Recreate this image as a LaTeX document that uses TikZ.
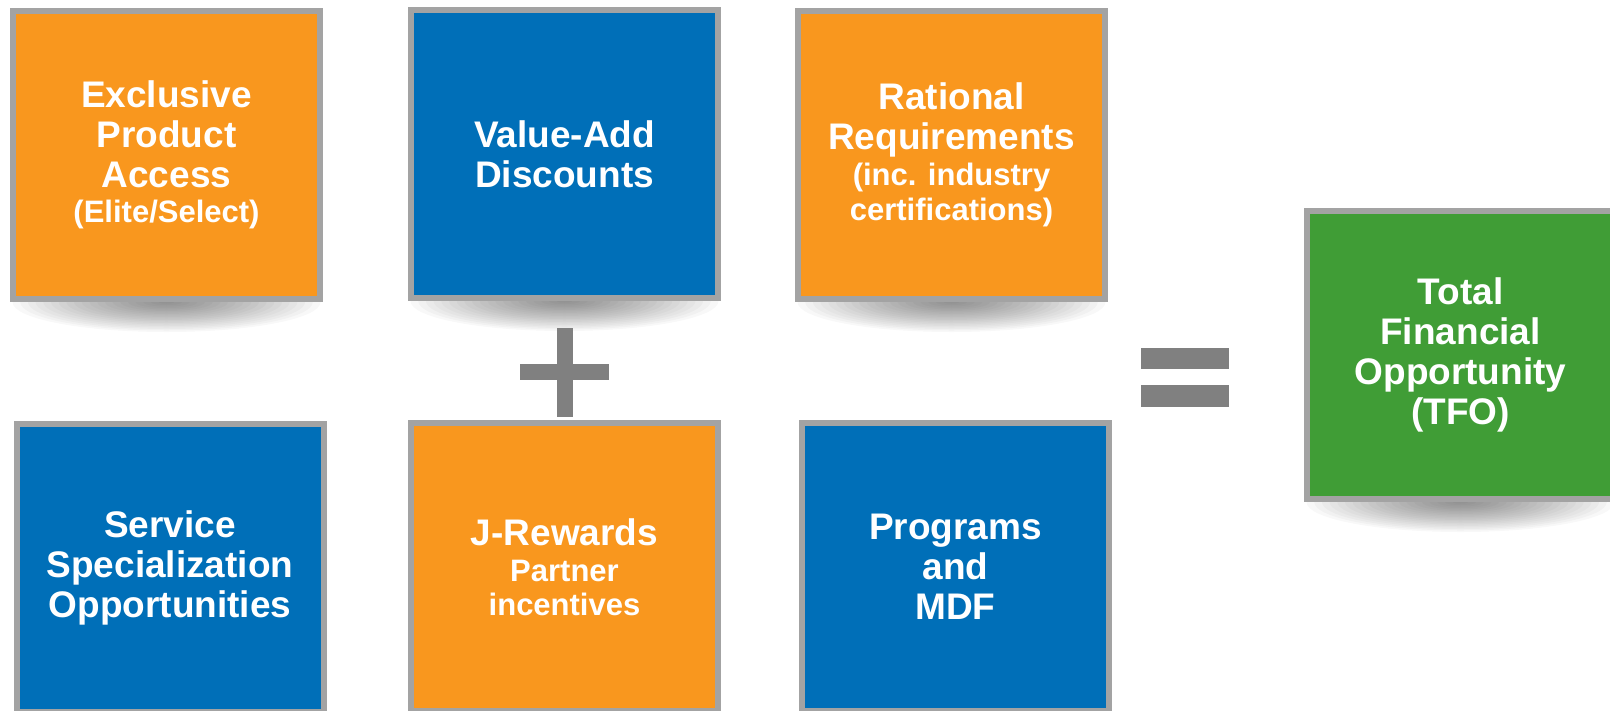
\documentclass[tikz,border=0pt]{standalone}
\usepackage{fontspec}
\setmainfont{Liberation Sans}
\usetikzlibrary{backgrounds}
\definecolor{borange}{RGB}{249,151,30}
\definecolor{bblue}{RGB}{0,111,184}
\definecolor{bgreen}{RGB}{64,157,54}
\definecolor{bgrayb}{RGB}{163,163,163}
\definecolor{opgray}{RGB}{128,128,128}
\newcommand\smallline[1]{{\fontsize{31}{33.5}\selectfont #1}}
\newcommand\softshadow[1]{%
  \foreach \k in {1,...,20}{%
    \fill[shadowlayer] ([yshift=-3pt]#1.south) ellipse [x radius=7.7pt*\k, y radius=1.5pt*\k];}}
\begin{document}
\begin{tikzpicture}[x=1pt,y=-1pt,
  tile/.style={draw=bgrayb, line width=6pt, minimum width=307pt, minimum height=288pt,
    inner sep=0pt, outer sep=0pt, align=center, text=white,
    font=\fontsize{37}{40}\selectfont\bfseries},
  shadowlayer/.style={fill=black, opacity=0.027},
  opsign/.style={fill=opgray}]
\useasboundingbox (0,0) rectangle (1610,710);
\clip (0,0) rectangle (1610,710);
% top row
\node[tile, fill=borange] (epa) at (166.5,155) {Exclusive\\Product\\Access\\[-5pt]\smallline{(Elite/Select)}};
\node[tile, fill=bblue] (vad) at (564.5,154) {Value-Add\\Discounts};
\node[tile, fill=borange] (rr) at (951.5,155) {Rational\\[0.5pt]Requirements\\[-4pt]\smallline{(inc. industry}\\[-5pt]\smallline{certifications)}};
% bottom row
\node[tile, fill=bblue] (sso) at (170,568) {Service\\Specialization\\Opportunities};
\node[tile, fill=borange] (jr) at (564.5,567) {J-Rewards\\[-3.3pt]\smallline{Partner}\\[-6.7pt]\smallline{incentives}};
\node[tile, fill=bblue] (pm) at (955.5,567) {Programs\\and\\MDF};
% result
\node[tile, fill=bgreen] (tfo) at (1460.5,355) {Total\\Financial\\Opportunity\\(TFO)};
% shadows
\begin{scope}[on background layer]
  \softshadow{epa}
  \softshadow{vad}
  \softshadow{rr}
  \softshadow{tfo}
\end{scope}
% plus
\fill[opsign] (557,328) rectangle (573,417);
\fill[opsign] (520,364) rectangle (609,380);
% equals
\fill[opsign] (1141,348) rectangle (1229,369);
\fill[opsign] (1141,385) rectangle (1229,407);
\end{tikzpicture}
\end{document}
